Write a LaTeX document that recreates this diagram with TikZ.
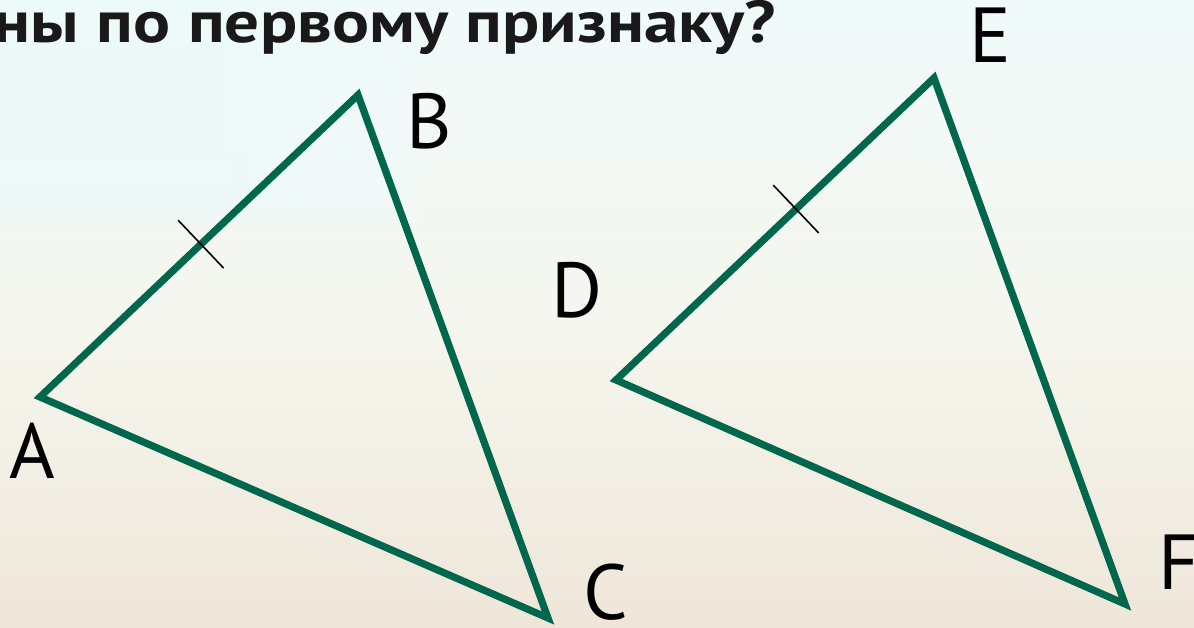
\documentclass[tikz,border=0pt]{standalone}
\usepackage{fontspec}
\setmainfont{PT Sans}
\newfontfamily\titlefont[FakeStretch=1.17]{PT Sans}
\usetikzlibrary{calc}
\definecolor{trigreen}{RGB}{0,102,76}
\definecolor{bgtop}{RGB}{240,250,250}
\definecolor{bgmid}{RGB}{245,246,238}
\definecolor{bgbot}{RGB}{239,230,217}
\definecolor{bandcyan}{RGB}{236,250,250}
\tikzset{
  side/.style={draw=trigreen, line width=3.6pt, line join=miter, line cap=butt},
  tickmark/.style={draw=black, line width=0.8pt},
  vlabel/.style={font=\fontsize{39}{39}\selectfont, text=black, inner sep=0pt, anchor=center},
  titletext/.style={font=\titlefont\fontsize{29.5}{29.5}\bfseries\selectfont, text=black!90, inner sep=0pt, anchor=base east}
}
\begin{document}
\begin{tikzpicture}[x=0.5pt,y=-0.5pt]
\useasboundingbox (0,0) rectangle (1194,627);
% background
\shade[top color=bgtop, bottom color=bgmid] (0,0) rectangle (1194,330);
\shade[top color=bgmid, bottom color=bgbot] (0,330) rectangle (1194,627);
\fill[bandcyan, opacity=0.7] (0,0) rectangle (230,221);
\shade[left color=bandcyan, right color=bgtop, opacity=0.6] (230,0) rectangle (420,221);
% title
\node[titletext] (title) at (776,42) {ны по первому признаку?};
% vertices
\coordinate (A) at (40,397);
\coordinate (B) at (358,95);
\coordinate (C) at (548,618);
\coordinate (D) at (616,380);
\coordinate (E) at (934,78);
\coordinate (F) at (1125,604);
% triangles
\draw[side] (A) -- (B) -- (C) -- cycle;
\draw[side] (D) -- (E) -- (F) -- cycle;
% tick marks
\coordinate (tAB) at ($(A)!0.506!(B)$);
\coordinate (tDE) at ($(D)!0.566!(E)$);
\draw[tickmark] ($(tAB)!16.5pt!90:(B)$) -- ($(tAB)!16.5pt!-90:(B)$);
\draw[tickmark] ($(tDE)!16.5pt!90:(E)$) -- ($(tDE)!16.5pt!-90:(E)$);
% labels
\node[vlabel] (lA) at (32,451) {A};
\node[vlabel] (lB) at (429,121) {B};
\node[vlabel] (lC) at (606,592) {C};
\node[vlabel] (lD) at (577,290) {D};
\node[vlabel] (lE) at (990,35) {E};
\node[vlabel] (lF) at (1179,562) {F};
\end{tikzpicture}
\end{document}
